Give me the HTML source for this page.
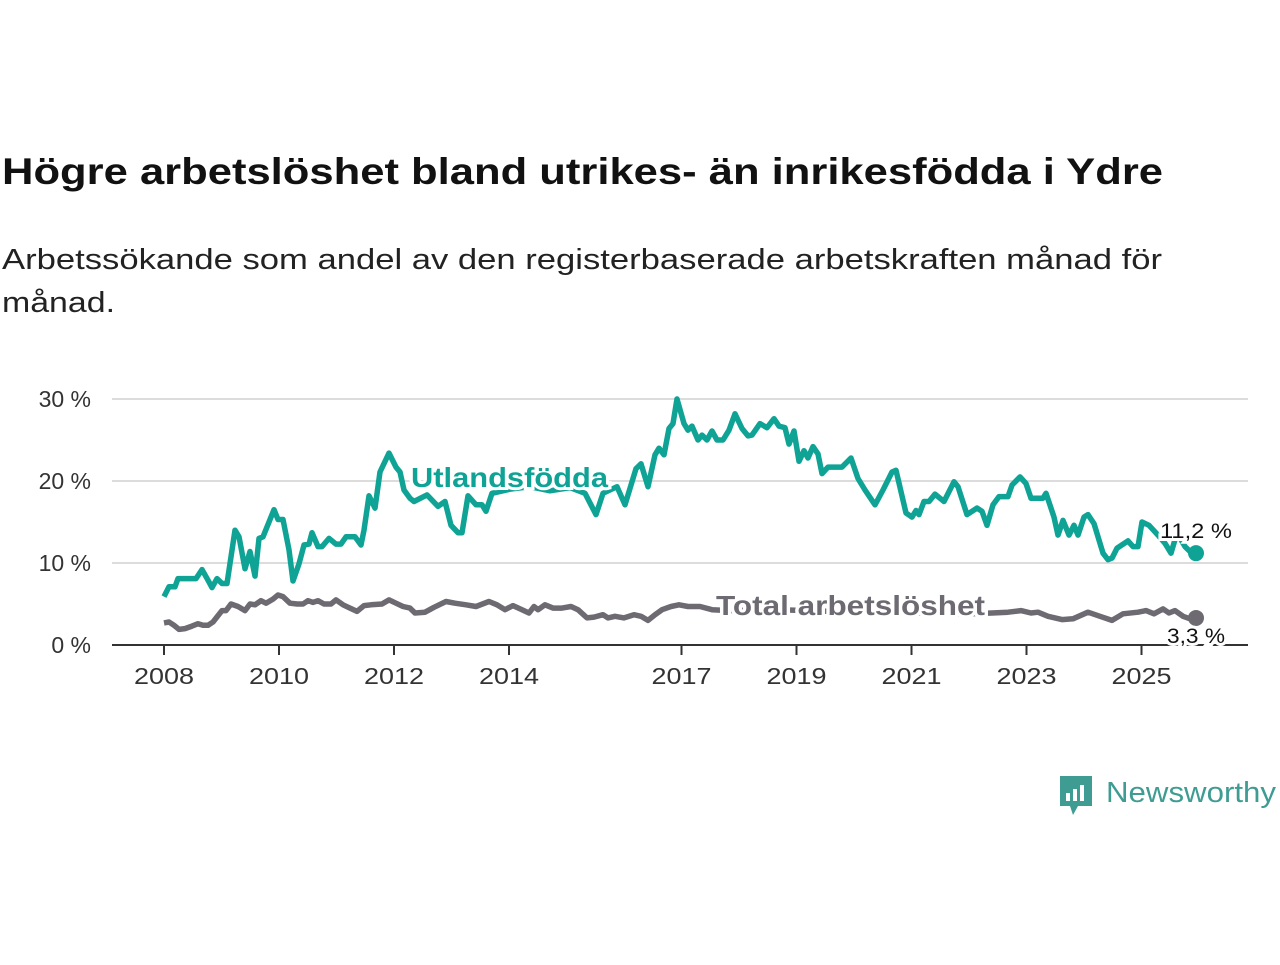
<!DOCTYPE html>
<html><head><meta charset="utf-8"><style>
body{margin:0;background:#fff;width:1280px;height:960px;overflow:hidden;font-family:"Liberation Sans",sans-serif}
</style></head><body>
<svg id="chart" width="1280" height="960" xmlns="http://www.w3.org/2000/svg" style="font-family:'Liberation Sans',sans-serif">
<text x="2" y="184" font-size="37" font-weight="bold" fill="#111" textLength="1161" lengthAdjust="spacingAndGlyphs">Högre arbetslöshet bland utrikes- än inrikesfödda i Ydre</text>
<text font-size="29" fill="#222"><tspan x="2" y="269" textLength="1160" lengthAdjust="spacingAndGlyphs">Arbetssökande som andel av den registerbaserade arbetskraften månad för</tspan><tspan x="2" y="312" textLength="113" lengthAdjust="spacingAndGlyphs">månad.</tspan></text>
<g id="grid"></g>
<g id="yaxis"></g>
<g id="xaxis"></g>
<g id="series"></g>
<g>
<path d="M1060 776 h32 v30 h-14 l-5 9 l-3 -9 h-10 z" fill="#3e9c92"/>
<rect x="1066" y="793" width="4" height="8" fill="#fff"/><rect x="1073" y="789" width="4" height="12" fill="#fff"/><rect x="1080" y="785" width="4" height="16" fill="#fff"/>
<text x="1106" y="802" font-size="29" fill="#3e9c92" textLength="170" lengthAdjust="spacingAndGlyphs">Newsworthy</text>
</g>
</svg>
<script>
const yTicks=[0,10,20,30];
const yTickLabels=["0 %","10 %","20 %","30 %"];
const xTicks=[2008,2010,2012,2014,2017,2019,2021,2023,2025];
const foreignX=[164,169,175,178,196,202,208,212,217,222,227,235,239,245,250,255,259,263,274,278,283,289,293,299,304,309,312,318,322,329,336,341,346,355,361,364,369,375,380,389,396,400,404,410,414,427,438,445,451,458,462,468,476,482,486,492,510,530,550,570,585,596,603,617,625,636,641,648,655,659,664,669,673,677,684,688,692,698,702,707,712,717,723,729,735,742,748,752,760,767,774,779,785,789,794,799,804,808,813,818,822,828,842,851,858,865,875,883,892,896,906,912,916,919,924,929,935,944,954,958,967,977,982,987,993,999,1008,1012,1020,1026,1031,1043,1046,1051,1054,1058,1063,1069,1074,1078,1084,1088,1094,1103,1108,1112,1117,1128,1133,1138,1142,1149,1158,1165,1171,1177,1185,1190,1196];
const foreignV=[5.9,7.1,7.1,8.1,8.1,9.2,7.9,7.0,8.1,7.5,7.5,14.0,13.2,9.3,11.4,8.4,13.0,13.2,16.5,15.3,15.3,11.6,7.8,9.9,12.2,12.3,13.7,12.0,12.0,13.0,12.3,12.3,13.2,13.2,12.2,14.0,18.2,16.7,21.1,23.4,21.7,21.1,18.9,17.9,17.5,18.3,16.9,17.5,14.6,13.7,13.7,18.2,17.1,17.1,16.3,18.5,19.0,19.3,18.8,19.2,18.5,15.9,18.5,19.3,17.1,21.5,22.1,19.3,23.2,24.0,23.2,26.4,27.0,30.0,27.0,26.2,26.7,25.0,25.6,25.0,26.1,25.0,25.0,26.2,28.2,26.4,25.5,25.6,27.0,26.5,27.6,26.7,26.5,24.5,26.1,22.4,23.7,22.8,24.2,23.3,20.9,21.7,21.7,22.8,20.3,18.9,17.1,18.9,21.1,21.3,16.1,15.6,16.4,15.9,17.5,17.5,18.4,17.5,19.9,19.3,15.9,16.7,16.3,14.6,17.1,18.1,18.1,19.5,20.5,19.7,17.9,17.9,18.5,16.7,15.6,13.4,15.2,13.4,14.6,13.4,15.6,15.9,14.8,11.2,10.4,10.6,11.8,12.7,12.0,12.0,15.0,14.6,13.4,12.4,11.2,13.7,12.0,11.4,11.2];
const totalX=[164,169,174,179,185,192,198,203,208,213,222,226,231,238,245,250,255,261,266,273,278,283,290,297,303,308,313,318,324,331,336,343,350,357,364,371,382,389,396,403,410,415,425,434,446,455,466,476,489,497,505,513,522,529,534,538,545,553,562,571,578,587,594,603,608,615,624,634,641,648,655,662,671,679,688,700,712,730,780,830,880,930,970,992,1008,1021,1031,1038,1048,1062,1073,1088,1100,1112,1123,1138,1146,1154,1163,1169,1175,1183,1190,1196];
const totalV=[2.7,2.8,2.4,1.9,2.0,2.3,2.6,2.4,2.4,2.8,4.2,4.2,5.0,4.7,4.2,5.0,4.9,5.4,5.1,5.6,6.1,5.9,5.1,5.0,5.0,5.4,5.2,5.4,5.0,5.0,5.5,4.9,4.5,4.1,4.8,4.9,5.0,5.5,5.1,4.7,4.5,3.9,4.0,4.6,5.3,5.1,4.9,4.7,5.3,4.9,4.3,4.8,4.3,3.9,4.7,4.3,4.9,4.5,4.5,4.7,4.3,3.3,3.4,3.7,3.3,3.5,3.3,3.7,3.5,3.0,3.7,4.3,4.7,4.9,4.7,4.7,4.3,4.2,4.3,4.1,4.0,3.9,3.8,3.9,4.0,4.2,3.9,4.0,3.5,3.1,3.2,4.0,3.5,3.0,3.8,4.0,4.2,3.8,4.4,3.9,4.2,3.5,3.2,3.3];
const NS="http://www.w3.org/2000/svg";
const X0=164,PXY=57.5,Y0=645,PXV=8.2;
const xs=y=>X0+(y-2008)*PXY;
const ys=v=>Y0-v*PXV;
const yearOf=p=>2008+(p-X0)/PXY;
function mk(t,a,parent){const e=document.createElementNS(NS,t);for(const k in a)e.setAttribute(k,a[k]);parent.appendChild(e);return e;}
const grid=document.getElementById('grid'),ya=document.getElementById('yaxis'),xa=document.getElementById('xaxis'),se=document.getElementById('series');
yTicks.forEach((v,i)=>{
 if(v>0){const l=mk('line',{x1:112,x2:1248,y1:ys(v),y2:ys(v),stroke:'#dcdcdc','stroke-width':2},grid);
 
 }
 const t=mk('text',{x:91,y:ys(v)+8,'text-anchor':'end','font-size':23,fill:'#333'},ya);t.textContent=yTickLabels[i];
 
 
});
const ax=mk('line',{x1:112,x2:1248,y1:Y0,y2:Y0,stroke:'#333','stroke-width':2},xa);


xTicks.forEach(y=>{
 const tk=mk('line',{x1:xs(y),x2:xs(y),y1:Y0,y2:Y0+10,stroke:'#333','stroke-width':2},xa);
 
 
 const t=mk('text',{x:xs(y),y:684,'text-anchor':'middle','font-size':23,fill:'#333',textLength:60,lengthAdjust:'spacingAndGlyphs'},xa);t.textContent=y;
 
 
});
function line(X,V,col,name){
 const d=X.map((p,i)=>(i?'L':'M')+xs(yearOf(p)).toFixed(1)+' '+ys(V[i]).toFixed(1)).join(' ');
 const p=mk('path',{d:d,fill:'none',stroke:col,'stroke-width':5.5,'stroke-linejoin':'round'},se);
 
 
 const n=X.length-1;
 const c=mk('circle',{cx:xs(yearOf(X[n])),cy:ys(V[n]),r:8,fill:col},se);
 
 
}
line(totalX,totalV,'#6d6a72','total');
line(foreignX,foreignV,'#0fa396','foreign');
function label(txt,x,y,size,col,w,name,anchor,len){
 const t=mk('text',{x:x,y:y,'font-size':size,'font-weight':w,fill:col,stroke:'#fff','stroke-width':6,'paint-order':'stroke','text-anchor':anchor||'start',textLength:len,lengthAdjust:'spacingAndGlyphs'},se);
 t.textContent=txt;
 
 
}
label('Utlandsfödda',411,487,28,'#0fa396','bold','foreign-series-label','start',197);
label('Total arbetslöshet',716,615,28,'#6d6a72','bold','total-series-label','start',269);
label('11,2 %',1196,538,21,'#111','normal','foreign-end-value','middle',72);
label('3,3 %',1196,643,21,'#111','normal','total-end-value','middle',58);
</script>
</body></html>
